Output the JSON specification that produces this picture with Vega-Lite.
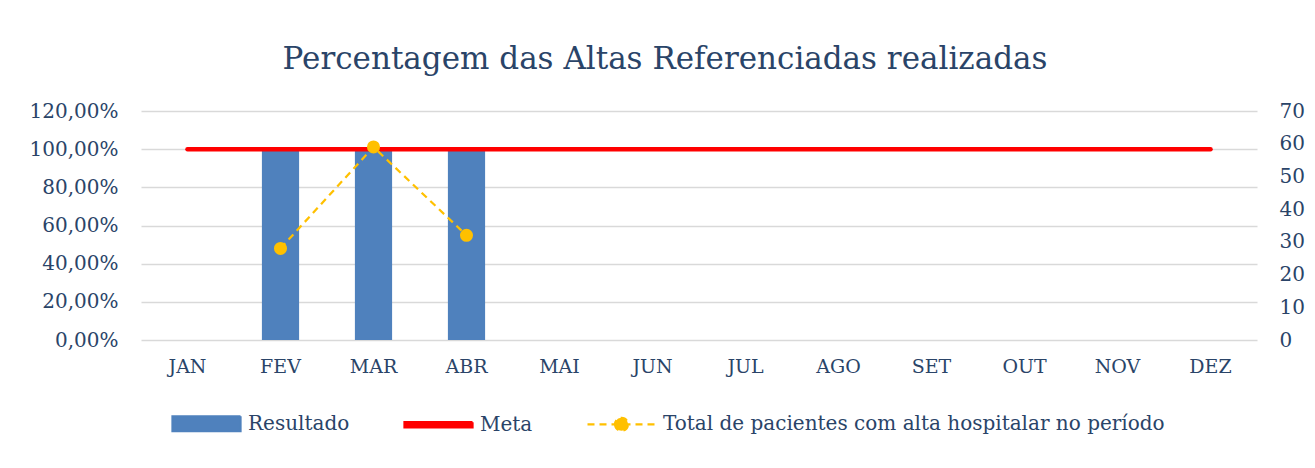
{
  "$schema": "https://vega.github.io/schema/vega-lite/v6.json",
  "width": 1116,
  "height": 229,
  "padding": {"left": 29, "top": 44, "right": 5, "bottom": 5},
  "background": "white",
  "title": {
    "text": "Percentagem das Altas Referenciadas realizadas",
    "fontSize": 31,
    "fontWeight": "normal",
    "color": "#2A4468",
    "font": "DejaVu Serif",
    "anchor": "middle",
    "dx": -34,
    "offset": 25
  },
  "data": {
    "values": [
      {"mes": "JAN", "resultado": null, "meta": 1, "total": null},
      {"mes": "FEV", "resultado": 1, "meta": 1, "total": 28},
      {"mes": "MAR", "resultado": 1, "meta": 1, "total": 59},
      {"mes": "ABR", "resultado": 1, "meta": 1, "total": 32},
      {"mes": "MAI", "resultado": null, "meta": 1, "total": null},
      {"mes": "JUN", "resultado": null, "meta": 1, "total": null},
      {"mes": "JUL", "resultado": null, "meta": 1, "total": null},
      {"mes": "AGO", "resultado": null, "meta": 1, "total": null},
      {"mes": "SET", "resultado": null, "meta": 1, "total": null},
      {"mes": "OUT", "resultado": null, "meta": 1, "total": null},
      {"mes": "NOV", "resultado": null, "meta": 1, "total": null},
      {"mes": "DEZ", "resultado": null, "meta": 1, "total": null}
    ]
  },
  "encoding": {
    "x": {
      "field": "mes",
      "type": "ordinal",
      "scale": {
        "domain": ["JAN", "FEV", "MAR", "ABR", "MAI", "JUN", "JUL", "AGO", "SET", "OUT", "NOV", "DEZ"],
        "paddingInner": 0.6,
        "paddingOuter": 0.3
      },
      "axis": {
        "title": null,
        "labelAngle": 0,
        "domain": false,
        "ticks": false,
        "labelPadding": 17,
        "labelFontSize": 19,
        "labelColor": "#2A4468",
        "grid": false
      }
    }
  },
  "layer": [
    {
      "mark": {"type": "bar", "color": "#4F81BD"},
      "encoding": {
        "y": {
          "field": "resultado",
          "type": "quantitative",
          "scale": {"domain": [0, 1.2], "nice": false},
          "axis": {
            "title": null,
            "format": ".2%",
            "values": [0, 0.2, 0.4, 0.6, 0.8, 1.0, 1.2],
            "domain": false,
            "ticks": false,
            "labelPadding": 23,
            "labelFontSize": 20,
            "labelColor": "#2A4468",
            "grid": true,
            "gridColor": "#D9D9D9",
            "gridWidth": 1.5
          }
        },
        "color": {
          "datum": "Resultado",
          "scale": {
            "domain": ["Resultado", "Meta", "Total de pacientes com alta hospitalar no período"],
            "range": ["#4F81BD", "#FF0000", "#FFC000"]
          },
          "legend": {
            "title": null,
            "orient": "none",
            "legendX": 30,
            "legendY": 277,
            "direction": "horizontal",
            "labelFontSize": 20,
            "labelColor": "#2A4468",
            "labelOffset": 6,
            "columnPadding": 50,
            "symbolSize": 4624,
            "symbolStrokeWidth": 2,
            "labelLimit": 700,
            "encode": {
              "symbols": {
                "update": {
                  "shape": {"signal": "datum.value === 'Resultado' ? 'M-1,-0.22H1V0.22H-1Z' : datum.value === 'Meta' ? 'M-1,-0.075H1V0.075H-1Z' : 'M-1,0H1M-0.19,0A0.19,0.19 0 1,0 0.19,0A0.19,0.19 0 1,0 -0.19,0Z'"},
                  "fill": {"signal": "datum.value === 'Resultado' ? '#4F81BD' : datum.value === 'Meta' ? '#FF0000' : '#FFC000'"},
                  "stroke": {"signal": "datum.value === 'Resultado' || datum.value === 'Meta' ? 'transparent' : '#FFC000'"},
                  "strokeDash": {"signal": "datum.value === 'Resultado' || datum.value === 'Meta' ? [1, 0] : [7, 5]"},
                  "strokeWidth": {"value": 2.25},
                  "opacity": {"value": 1},
                  "fillOpacity": {"value": 1}
                }
              }
            }
          }
        }
      }
    },
    {
      "mark": {"type": "line", "strokeWidth": 4.5, "strokeCap": "round"},
      "encoding": {
        "y": {
          "field": "meta",
          "type": "quantitative",
          "scale": {"domain": [0, 1.2], "nice": false},
          "axis": null
        },
        "color": {"datum": "Meta"}
      }
    },
    {
      "mark": {
        "type": "line",
        "strokeWidth": 2.25,
        "strokeDash": [7, 5],
        "point": {"filled": true, "size": 170, "opacity": 1}
      },
      "encoding": {
        "y": {
          "field": "total",
          "type": "quantitative",
          "scale": {"domain": [0, 70], "nice": false},
          "axis": {
            "orient": "right",
            "title": null,
            "values": [0, 10, 20, 30, 40, 50, 60, 70],
            "domain": false,
            "ticks": false,
            "grid": false,
            "labelPadding": 22,
            "labelFontSize": 20,
            "labelColor": "#2A4468"
          }
        },
        "color": {"datum": "Total de pacientes com alta hospitalar no período"}
      }
    }
  ],
  "resolve": {"scale": {"y": "independent"}},
  "config": {
    "font": "DejaVu Serif",
    "view": {"stroke": null},
    "locale": {
      "number": {
        "decimal": ",",
        "thousands": ".",
        "grouping": [3],
        "currency": ["R$", ""]
      }
    }
  }
}
